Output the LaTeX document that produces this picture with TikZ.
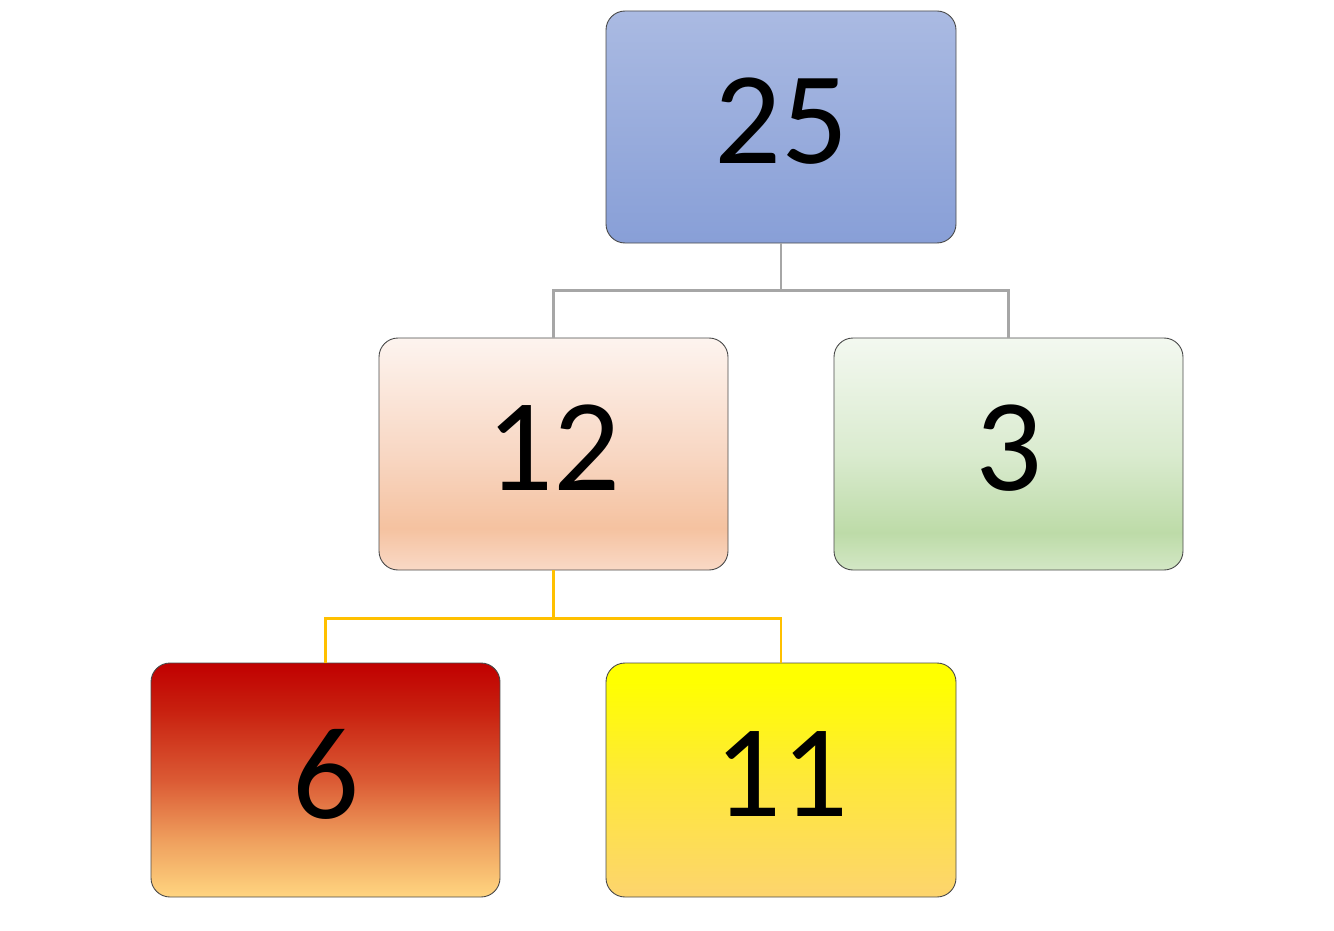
\documentclass[tikz,border=0pt]{standalone}
\usepackage{fontspec}
\setmainfont{Carlito}
\definecolor{blueT}{HTML}{AABAE2}
\definecolor{blueB}{HTML}{889FD7}
\definecolor{peA}{HTML}{F9D9C6}
\definecolor{peB}{HTML}{F5C2A0}
\definecolor{peC}{HTML}{F8D7C3}
\definecolor{peD}{HTML}{FDF4EF}
\definecolor{grA}{HTML}{D3E7C5}
\definecolor{grB}{HTML}{BDDBA8}
\definecolor{grC}{HTML}{DAEBCF}
\definecolor{grD}{HTML}{F3F8F0}
\definecolor{rdA}{HTML}{FFD580}
\definecolor{rdB}{HTML}{EFA05E}
\definecolor{rdC}{HTML}{DB5A34}
\definecolor{rdD}{HTML}{C8200F}
\definecolor{rdE}{HTML}{C00000}
\definecolor{ylA}{HTML}{FDD46E}
\definecolor{ylB}{HTML}{FEE83A}
\definecolor{ylC}{HTML}{FFFF00}
\definecolor{conGray}{HTML}{A6A6A6}
\definecolor{conGold}{HTML}{FFC000}
\definecolor{edge}{HTML}{4A4A4A}
\pgfdeclareverticalshading{blueg}{100bp}{color(0bp)=(blueB); color(25bp)=(blueB); color(75bp)=(blueT); color(100bp)=(blueT)}
\pgfdeclareverticalshading{peachg}{100bp}{color(0bp)=(peA); color(25bp)=(peA); color(34bp)=(peB); color(50bp)=(peC); color(75bp)=(peD); color(100bp)=(peD)}
\pgfdeclareverticalshading{greeng}{100bp}{color(0bp)=(grA); color(25bp)=(grA); color(33bp)=(grB); color(50bp)=(grC); color(75bp)=(grD); color(100bp)=(grD)}
\pgfdeclareverticalshading{redg}{100bp}{color(0bp)=(rdA); color(25bp)=(rdA); color(37bp)=(rdB); color(50bp)=(rdC); color(65bp)=(rdD); color(75bp)=(rdE); color(100bp)=(rdE)}
\pgfdeclareverticalshading{yellowg}{100bp}{color(0bp)=(ylA); color(25bp)=(ylA); color(50bp)=(ylB); color(71bp)=(ylC); color(75bp)=(ylC); color(100bp)=(ylC)}
\tikzset{
  box/.style={draw=edge, line width=0.9pt, rounded corners=19pt,
    minimum width=350pt, minimum height=232pt, inner sep=0pt,
    text depth=12pt, font=\fontsize{132}{132}\selectfont},
  conn/.style={line width=2.4pt},
}
\begin{document}
\begin{tikzpicture}[x=1pt,y=-1pt]
\useasboundingbox (0,0) rectangle (1334,931);
\node[box, shading=blueg] (A) at (781,127) {25};
\node[box, shading=peachg, minimum width=349pt] (B) at (553.5,454) {12};
\node[box, shading=greeng, minimum width=349pt] (C) at (1008.5,454) {3};
\node[box, shading=redg, minimum width=349pt, minimum height=234pt] (D) at (325.5,780) {6};
\node[box, shading=yellowg, minimum height=234pt] (E) at (781,780) {11};
\draw[conn, conGray] (A.south) -- ++(0,47) -| (B.north);
\draw[conn, conGray] (A.south) -- ++(0,47) -| (C.north);
\draw[conn, conGold] (B.south) -- ++(0,48) -| (D.north);
\draw[conn, conGold] (B.south) -- ++(0,48) -| (E.north);
\end{tikzpicture}
\end{document}
